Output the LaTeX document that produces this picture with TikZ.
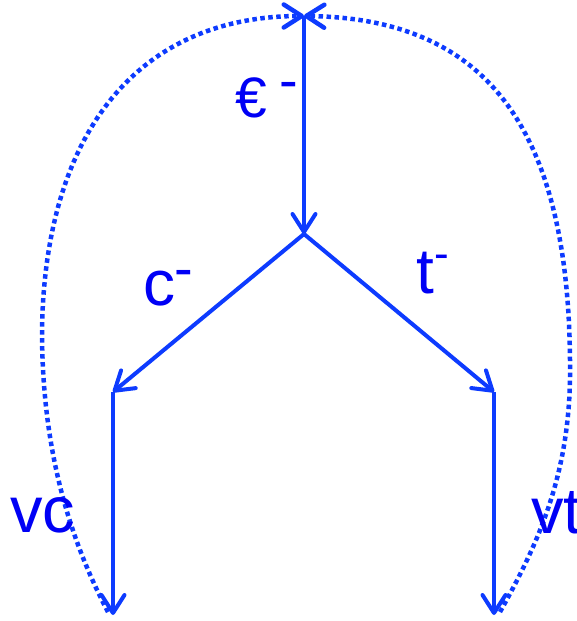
\documentclass[tikz,border=0pt]{standalone}
\usepackage{fontspec}
\setmainfont{Liberation Sans}
\usetikzlibrary{arrows.meta}
\definecolor{wire}{HTML}{0D3BFF}
\definecolor{ink}{HTML}{0000F5}
\tikzset{
  tip/.style={-{Straight Barb[length=18pt,width=23pt,line cap=round,line join=round]}},
  flow/.style={tip,line width=4pt,draw=wire},
  loop/.style={tip,line width=4.5pt,draw=wire,dash pattern=on 4.5pt off 3.5pt},
  lbl/.style={anchor=base west,inner sep=0pt,text=ink,font=\fontsize{64}{70}\selectfont},
}
\newcommand{\charge}[3]{\hspace{#1}\raisebox{#2}{\fontsize{#3}{#3}\selectfont -}}

\begin{document}
\begin{tikzpicture}[x=1pt,y=-1pt]
\useasboundingbox (0,0) rectangle (577,621);

% --- points of the tree
\coordinate (top) at (304,16);
\coordinate (fork) at (304,234);
\coordinate (cTop) at (113,392);
\coordinate (tTop) at (494,392);
\coordinate (cEnd) at (113,615);
\coordinate (tEnd) at (494,615);
\coordinate (cLoop) at (108,612);
\coordinate (tLoop) at (500,612);

% --- solid branches
\draw[flow] (top) -- (fork);
\draw[flow] (fork) -- (cTop);
\draw[flow] (fork) -- (tTop);
\draw[flow] (cTop) -- (cEnd);
\draw[flow] (tTop) -- (tEnd);

% --- dotted returns to the top
\draw[loop] (cLoop) .. controls (65,530) and (42,440) .. (42,330)
  .. controls (45,130) and (140,16) .. (top);
\draw[loop] (tLoop) .. controls (540,540) and (572,470) .. (570,360)
  .. controls (568,120) and (480,18) .. (top);

% --- labels
\node[lbl,font=\fontsize{57}{60}\selectfont] (eLbl) at (235,117) {€\charge{13pt}{18pt}{56}};
\node[lbl] (cLbl) at (143,305) {c\charge{-1pt}{18pt}{56}};
\node[lbl] (tLbl) at (416,293) {t\charge{1pt}{25pt}{44}};
\node[lbl,font=\fontsize{65}{72}\selectfont] (vcLbl) at (10,532) {vc};
\node[lbl,font=\fontsize{65}{72}\selectfont] (vtLbl) at (531,533) {vt};

\end{tikzpicture}
\end{document}
